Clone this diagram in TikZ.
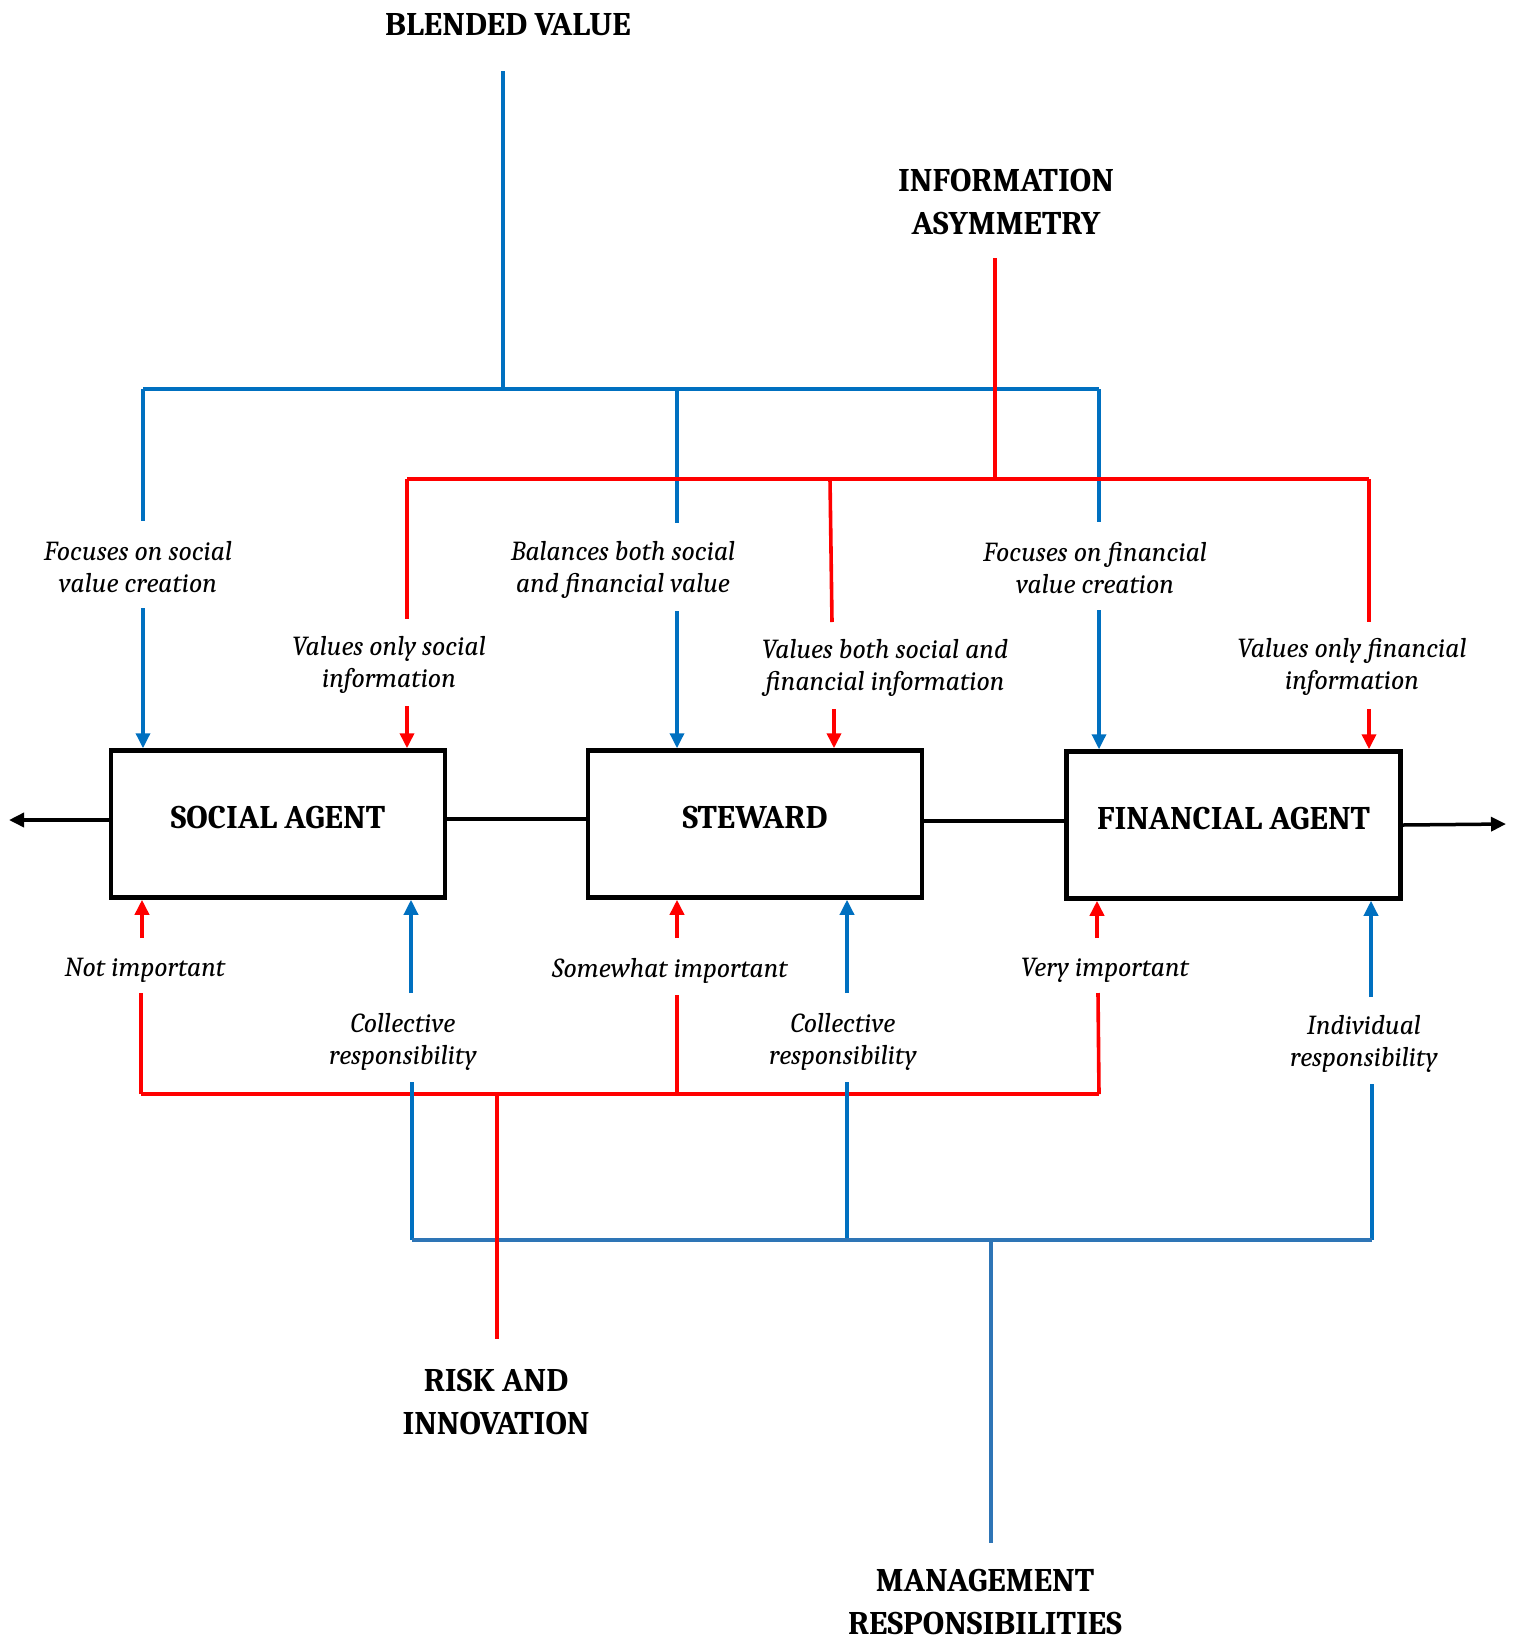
\documentclass[tikz,border=0pt]{standalone}
\usepackage{fontspec}
\setmainfont{Caladea}
\usetikzlibrary{arrows.meta}
\definecolor{bl}{HTML}{0070C0}
\definecolor{blb}{HTML}{2E75B6}
\definecolor{rd}{HTML}{FF0000}
\begin{document}
\begin{tikzpicture}[x=1pt,y=-1pt,
  bline/.style={draw=bl,line width=3.4pt},
  bline2/.style={draw=blb,line width=3.4pt},
  rline/.style={draw=rd,line width=3.6pt},
  tip/.style={-{Triangle[length=15pt,width=14pt]}},
  barr/.style={bline,tip},
  rarr/.style={rline,tip},
  kline/.style={draw=black,line width=3.5pt},
  karr/.style={kline,tip},
  lbl/.style={font=\fontsize{27.5}{31.5}\selectfont\itshape,align=center,inner sep=0pt},
  ttl/.style={font=\fontsize{33}{43}\selectfont\bfseries,align=center,inner sep=0pt},
  agent/.style={draw=black,line width=4.5pt,minimum width=334pt,minimum height=147pt,
    font=\fontsize{33}{38}\selectfont\bfseries,inner sep=0pt,text depth=14pt}
]
\useasboundingbox (0,0) rectangle (1515,1639);

% boxes
\node[agent] (sa) at (278,824) {SOCIAL AGENT};
\node[agent] (st) at (755,824) {STEWARD};
\node[agent] (fa) at (1233.5,825) {FINANCIAL AGENT};

% titles
\node[ttl] (bv) at (508,25) {BLENDED VALUE};
\node[ttl] (ia) at (1006,202) {INFORMATION\\ASYMMETRY};
\node[ttl] (ri) at (496,1402) {RISK AND\\INNOVATION};
\node[ttl] (mr) at (985,1602) {MANAGEMENT\\RESPONSIBILITIES};

% labels top
\node[lbl] (l1) at (138,567) {Focuses on social\\value creation};
\node[lbl] (l2) at (623,570) {Balances both social\\and financial value};
\node[lbl] (l3) at (1095,568) {Focuses on financial\\value creation};
\node[lbl] (r1) at (389,665) {Values only social\\information};
\node[lbl] (r2) at (885,668) {Values both social and\\financial information};
\node[lbl] (r3) at (1352,667) {Values only financial\\information};

% labels bottom
\node[lbl] (n1) at (145,970) {Not important};
\node[lbl] (n2) at (670,971) {Somewhat important};
\node[lbl] (n3) at (1105,970) {Very important};
\node[lbl] (c1) at (403,1042) {Collective\\responsibility};
\node[lbl] (c2) at (843,1042) {Collective\\responsibility};
\node[lbl] (c3) at (1364,1044) {Individual\\responsibility};

% coordinates top blue
\coordinate (bvT) at (503,71);
\coordinate (bvJ) at (503,389);
\coordinate (bL) at (143,389);
\coordinate (bM) at (677,389);
\coordinate (bR) at (1099,389);
\coordinate (bLe) at (143,521);
\coordinate (bMe) at (677,523);
\coordinate (bRe) at (1099,522);
\coordinate (bLs) at (143,608);
\coordinate (bMs) at (677,611);
\coordinate (bRs) at (1099,610);

% coordinates top red
\coordinate (iaT) at (995,258);
\coordinate (iaJ) at (995,479);
\coordinate (rL) at (407,479);
\coordinate (rM) at (830,479);
\coordinate (rR) at (1369,479);
\coordinate (rLe) at (407,619);
\coordinate (rMe) at (832,622);
\coordinate (rRe) at (1369,622);
\coordinate (rLs) at (407,706);
\coordinate (rMs) at (834,709);
\coordinate (rRs) at (1369,709);

% coordinates bottom red
\coordinate (nL) at (141,1094);
\coordinate (nM) at (677,1094);
\coordinate (nR) at (1099,1094);
\coordinate (nLe) at (141,993);
\coordinate (nMe) at (677,995);
\coordinate (nRe) at (1098,993);
\coordinate (nLs) at (142,938);
\coordinate (nMs) at (677,938);
\coordinate (nRs) at (1097,938);
\coordinate (riJ) at (497,1094);
\coordinate (riB) at (497,1339);

% coordinates bottom blue
\coordinate (cLs) at (411,993);
\coordinate (cMs) at (847,993);
\coordinate (cRs) at (1371,997);
\coordinate (cLe) at (412,1082);
\coordinate (cMe) at (847,1082);
\coordinate (cRe) at (1372,1084);
\coordinate (cL) at (412,1240);
\coordinate (cM) at (847,1240);
\coordinate (cR) at (1372,1240);
\coordinate (mrJ) at (991,1240);
\coordinate (mrB) at (991,1543);

% side arrows
\coordinate (leftEnd) at (9,820);
\coordinate (rightEnd) at (1506,824);

% --- top blue tree
\draw[bline] (bvT) -- (bvJ);
\draw[bline] (bL) -- (bR);
\draw[bline] (bL) -- (bLe);
\draw[bline] (bM) -- (bMe);
\draw[bline] (bR) -- (bRe);
\draw[barr] (bLs) -- (bLs |- sa.north);
\draw[barr] (bMs) -- (bMs |- st.north);
\draw[barr] (bRs) -- (bRs |- fa.north);

% --- top red tree
\draw[rline] (iaT) -- (iaJ);
\draw[rline] (rL) -- (rR);
\draw[rline] (rL) -- (rLe);
\draw[rline] (rM) -- (rMe);
\draw[rline] (rR) -- (rRe);
\draw[rarr] (rLs) -- (rLs |- sa.north);
\draw[rarr] (rMs) -- (rMs |- st.north);
\draw[rarr] (rRs) -- (rRs |- fa.north);

% --- bottom red tree
\draw[rline] (nL) -- (nR);
\draw[rline] (nL) -- (nLe);
\draw[rline] (nM) -- (nMe);
\draw[rline] (nR) -- (nRe);
\draw[rarr] (nLs) -- (nLs |- sa.south);
\draw[rarr] (nMs) -- (nMs |- st.south);
\draw[rarr] (nRs) -- (nRs |- fa.south);

% --- bottom blue tree
\draw[barr] (cLs) -- (cLs |- sa.south);
\draw[barr] (cMs) -- (cMs |- st.south);
\draw[barr] (cRs) -- (cRs |- fa.south);
\draw[bline] (cLe) -- (cL);
\draw[bline] (cMe) -- (cM);
\draw[bline] (cRe) -- (cR);
\draw[bline2] (cL) -- (cR);
\draw[bline2] (mrJ) -- (mrB);
\draw[rline] (riJ) -- (riB);

% --- black connectors
\draw[karr] ([yshift=4pt]sa.west) -- (leftEnd);
\draw[kline] ([yshift=5pt]sa.east) -- ([yshift=5pt]st.west);
\draw[kline] ([yshift=3pt]st.east) -- ([yshift=4pt]fa.west);
\draw[karr] (fa.east) -- (rightEnd);
\end{tikzpicture}
\end{document}
